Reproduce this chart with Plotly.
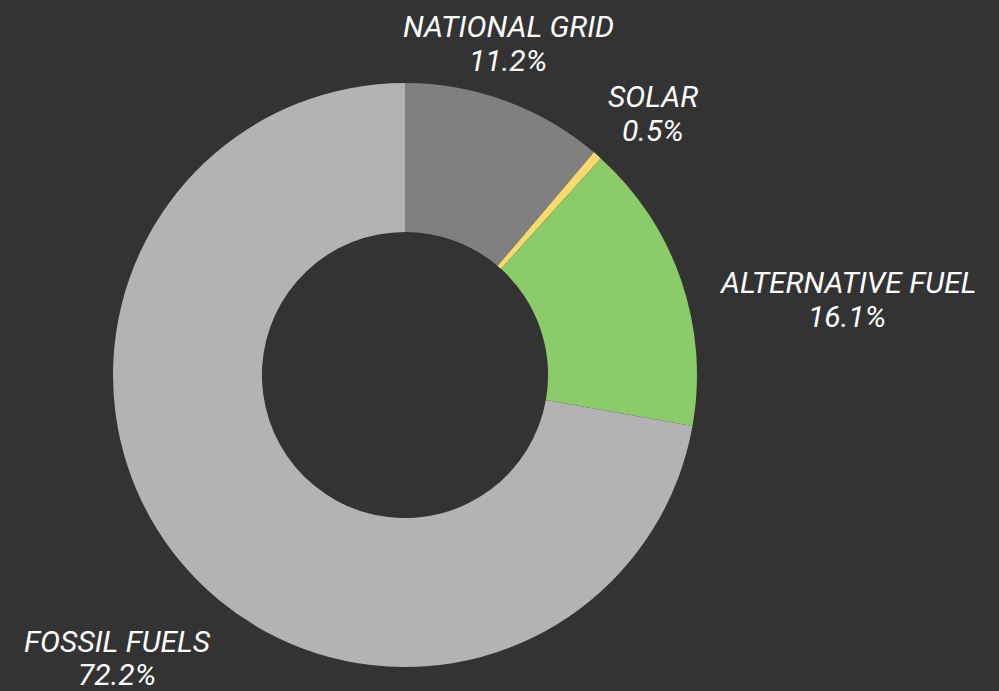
import plotly.graph_objects as go

# Energy source shares (%)
sources = ["NATIONAL GRID", "SOLAR", "ALTERNATIVE FUEL", "FOSSIL FUELS"]
shares = [11.2, 0.5, 16.1, 72.2]
colors = ["#808080", "#FADA6E", "#8BCB6A", "#B3B3B3"]

# Label placement (pixel centres of the name line and the value line)
label_x = [508, 653, 847, 117]
name_y = [26, 97, 282, 641]
value_y = [60, 130, 316, 674]

W, H = 999, 691
M = dict(l=113, r=302, t=83, b=24)
plot_w = W - M["l"] - M["r"]
plot_h = H - M["t"] - M["b"]


def to_paper(px, py):
    return (px - M["l"]) / plot_w, 1 - (py - M["t"]) / plot_h


fig = go.Figure(
    go.Pie(
        labels=sources,
        values=shares,
        hole=0.49,
        sort=False,
        direction="clockwise",
        rotation=0,
        marker=dict(colors=colors, line=dict(width=0)),
        textinfo="none",
        showlegend=False,
        hoverinfo="label+percent",
    )
)

label_font = dict(family="Roboto", size=30, color="#FFFFFF", style="italic")
for src, val, lx, ny, vy in zip(sources, shares, label_x, name_y, value_y):
    for text, py in ((src, ny), (f"{val:.1f}%", vy)):
        x, y = to_paper(lx, py)
        fig.add_annotation(
            x=x, y=y, xref="paper", yref="paper",
            text=text, showarrow=False,
            xanchor="center", yanchor="middle",
            font=label_font,
        )

fig.update_layout(
    width=W,
    height=H,
    paper_bgcolor="#333333",
    plot_bgcolor="#333333",
    margin=M,
)

fig.write_html("out.html")
